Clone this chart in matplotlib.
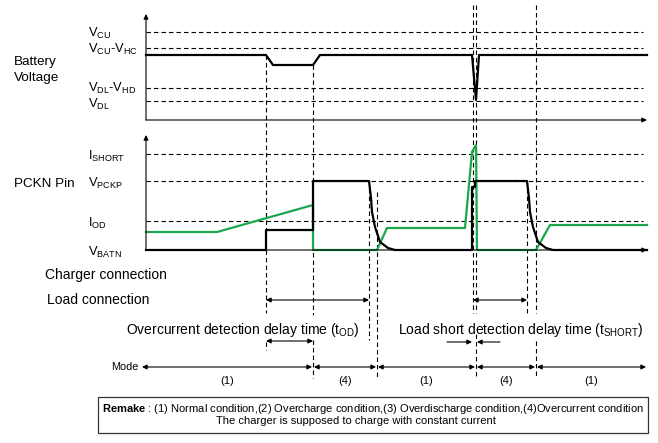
import matplotlib.pyplot as plt
from matplotlib.patches import Rectangle

plt.rcParams['font.family'] = ['Liberation Sans', 'DejaVu Sans']
plt.rcParams['mathtext.fontset'] = 'custom'
plt.rcParams['mathtext.rm'] = 'Liberation Sans'
plt.rcParams['mathtext.bf'] = 'Liberation Sans:bold'
plt.rcParams['lines.scale_dashes'] = False

GREEN = '#1aa84c'
DASH = (0, (3.2, 2.2))

# ---- data (time units: 0 = y axis, levels above each panel baseline) ----
t_end = 501

# battery voltage
bat_t = [0, 120, 127, 167, 174, 326, 330, 333, t_end]
bat_v = [65, 65, 55, 55, 65, 65, 20, 65, 65]
bat_levels = [88, 72, 32, 19]
bat_labels = [r'V$_{\mathrm{CU}}$', r'V$_{\mathrm{CU}}$-V$_{\mathrm{HC}}$',
              r'V$_{\mathrm{DL}}$-V$_{\mathrm{HD}}$', r'V$_{\mathrm{DL}}$']

# PCKN pin voltage (black)
decay_dt = [0, 2, 3, 6, 11, 19, 26]
decay_v = [69, 52, 38, 23, 8, 2, 0]
pck_t = ([0, 120, 120, 167, 167] + [223 + d for d in decay_dt]
         + [326, 326, 329, 329] + [381 + d for d in decay_dt] + [t_end])
pck_v = ([0, 0, 20, 20, 69] + decay_v
         + [0, 63, 63, 69] + decay_v + [0])

# PCKN current (green)
cur_t = [0, 71, 167, 167, 231, 241, 319, 326, 330, 331, 390, 404, t_end]
cur_v = [18, 18, 45, 0, 0, 22, 22, 98, 105, 0, 0, 25, 25]

pck_levels = [96, 69, 29]
pck_labels = [r'I$_{\mathrm{SHORT}}$', r'V$_{\mathrm{PCKP}}$', r'I$_{\mathrm{OD}}$',
              r'V$_{\mathrm{BATN}}$']

# mode sections
mode_edges = [-5, 167, 231, 330, 390, t_end]
mode_names = ['(1)', '(4)', '(1)', '(4)', '(1)']

# ---- layout (pixel rows) ----
BAT_BASE, BAT_TOP = 120, 14
PCK_BASE, PCK_TOP = 250, 135
X0 = 146

fig = plt.figure(figsize=(6.58, 4.43), dpi=100)
ax = fig.add_axes([0, 0, 1, 1])
ax.set_xlim(-X0, 658 - X0)
ax.set_ylim(443, 0)
ax.axis('off')


def arrow(x0, y0, x1, y1, style='-|>', lw=0.8, ms=7):
    ax.annotate('', xy=(x1, y1), xytext=(x0, y0),
                arrowprops=dict(arrowstyle=style, lw=lw, color='k',
                                mutation_scale=ms, shrinkA=0, shrinkB=0))


# axes of both panels
for base, top in [(BAT_BASE, BAT_TOP), (PCK_BASE, PCK_TOP)]:
    arrow(0, base, 0, top)
    arrow(0, base, t_end, base)

# level lines
for lv in bat_levels:
    ax.plot([0, 497], [BAT_BASE - lv] * 2, color='k', lw=0.8, ls=DASH)
for lv in pck_levels:
    ax.plot([0, 497], [PCK_BASE - lv] * 2, color='k', lw=0.8, ls=DASH)

# vertical event markers
markers = [
    (120, [(55, 313), (342, 350)]),
    (167, [(65, 315), (340, 378)]),
    (223, [(181, 340)]),
    (231, [(192, 378)]),
    (327, [(5, 313)]),
    (330, [(5, 313), (334, 378)]),
    (381, [(181, 315)]),
    (390, [(5, 313), (341, 378)]),
]
for t, spans in markers:
    for y0, y1 in spans:
        ax.plot([t, t], [y0, y1], color='k', lw=0.8, ls=DASH)

# waveforms
ax.plot(bat_t, [BAT_BASE - v for v in bat_v], color='k', lw=1.6)
ax.plot(cur_t, [PCK_BASE - v for v in cur_v], color=GREEN, lw=1.6)
ax.plot(pck_t, [PCK_BASE - v for v in pck_v], color='k', lw=1.6)

# left labels
fs = 10
ax.text(14 - X0, 62, 'Battery', fontsize=9.7, va='center')
ax.text(14 - X0, 78, 'Voltage', fontsize=9.7, va='center')
ax.text(14 - X0, 184, 'PCKN Pin', fontsize=9.7, va='center')
lab_dy = [1.5, 1.5, 0.5, 3]
for lv, lab, dy in zip(bat_levels, bat_labels, lab_dy):
    ax.text(88 - X0, BAT_BASE - lv + dy, lab, fontsize=9.3, va='center')
for lv, lab in zip(pck_levels + [0], pck_labels):
    ax.text(88 - X0, PCK_BASE - lv + 2, lab, fontsize=9.3, va='center')

ax.text(45 - X0, 275, 'Charger connection', fontsize=fs, va='center')
ax.text(47 - X0, 300, 'Load connection', fontsize=fs, va='center')

# delay arrows
arrow(120, 300, 223, 300, style='<|-|>')
arrow(120, 341, 167, 341, style='<|-|>')
arrow(327, 300, 381, 300, style='<|-|>')
arrow(301, 342, 326, 342)
arrow(354, 342, 331, 342)
ax.text(126 - X0, 330, r'Overcurrent detection delay time (t$_{\mathrm{OD}}$)',
        fontsize=fs, va='center')
ax.text(398 - X0, 330, r'Load short detection delay time (t$_{\mathrm{SHORT}}$)',
        fontsize=fs, va='center')

# mode row
ax.text(138 - X0, 367, 'Mode', fontsize=7.8, va='center', ha='right')
for a, b, name in zip(mode_edges[:-1], mode_edges[1:], mode_names):
    arrow(a + 1, 367, b - 1, 367, style='<|-|>', lw=0.8, ms=7)
    ax.text((a + b) / 2, 381, name, fontsize=8, ha='center', va='center')

# remark box
ax.add_patch(Rectangle((98 - X0, 397), 550, 36, fill=False, lw=0.9,
                       edgecolor='#333333'))
ax.text(373 - X0, 409,
        r'$\mathbf{Remake}$ : (1) Normal condition,(2) Overcharge condition,'
        r'(3) Overdischarge condition,(4)Overcurrent condition',
        fontsize=8, ha='center', va='center')
ax.text(356 - X0, 421, 'The charger is supposed to charge with constant current',
        fontsize=8, ha='center', va='center')

fig.savefig('out.png', dpi=100)
